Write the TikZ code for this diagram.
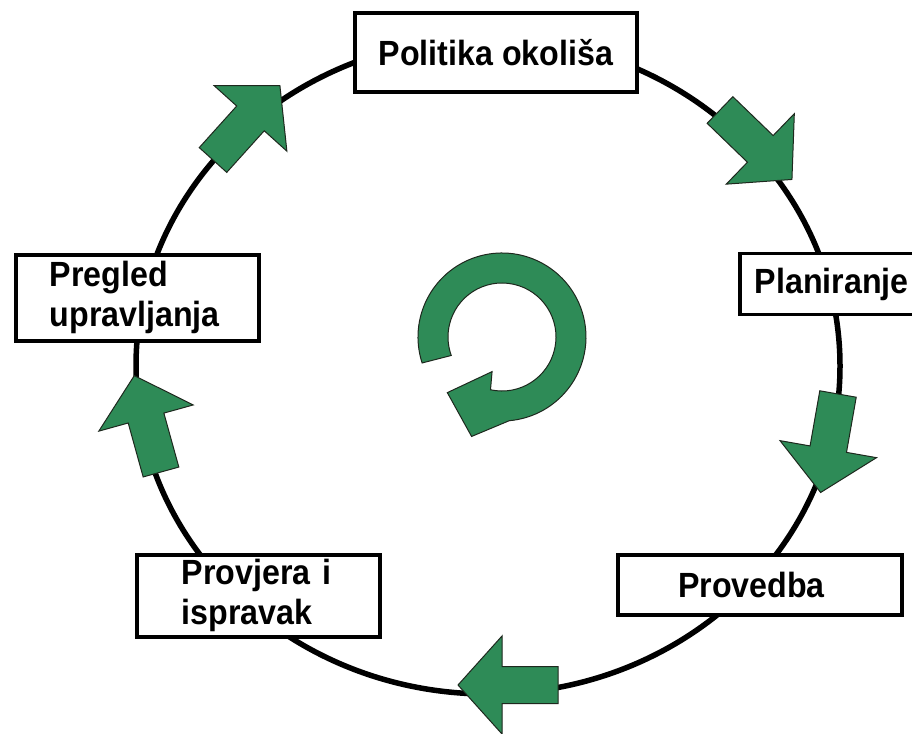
\documentclass[tikz,border=0pt]{standalone}
\usepackage{fontspec}
\setmainfont{Liberation Sans}
\newfontfamily\stagefont{Liberation Sans}[FakeStretch=0.92]
\definecolor{CycleGreen}{RGB}{46, 139, 87}
\definecolor{EdgeDark}{RGB}{30, 40, 30}
\usetikzlibrary{positioning}
\tikzset{
  stagebox/.style={draw=black, line width=3.5pt, fill=white, inner sep=0pt,
    font=\stagefont\fontsize{35}{40}\selectfont\bfseries},
  flowarrow/.pic={
    \filldraw[fill=CycleGreen, draw=EdgeDark, line width=1pt]
      (0,-18.5) -- (56,-18.5) -- (56,-49) -- (100,0) -- (56,49) -- (56,18.5) -- (0,18.5) -- cycle;
  }
}
\begin{document}
\begin{tikzpicture}[x=1pt, y=-1pt]
        \clip (0,0) rectangle (912,733);
        \fill[white] (0,0) rectangle (912,733);

        % Cycle line
        \draw[line width=5.5pt] (488,366) ellipse [x radius=352pt, y radius=328pt];

        % Stages
        \node[stagebox, minimum width=282pt, minimum height=79pt] (policy) at (496,52.5) {Politika okoliša};
        \node[stagebox, anchor=west, minimum height=61pt, text width=152pt, inner xsep=15pt, align=left] (plan) at (738,284) {Planiranje};
        \node[stagebox, minimum height=60pt, text width=164pt, inner xsep=60pt, align=left] (action) at (760,585) {Provedba};
        \node[stagebox, anchor=north west, minimum height=82pt, text width=153pt, inner xsep=45pt, align=left] (check) at (135,553) {Provjera i\\ispravak};
        \node[stagebox, anchor=north west, minimum height=86pt, text width=175pt, inner xsep=34pt, align=left] (review) at (14,253) {Pregled\\upravljanja};

        % Arrows on the cycle
        \pic[rotate=-44] at (720,110) {flowarrow};
        \pic[rotate=-100] at (838,394) {flowarrow};
        \pic[rotate=180] at (558,685) {flowarrow};
        \pic[rotate=105.5] at (161,472) {flowarrow};
        \pic[rotate=48] at (213,160) {flowarrow};

        % Circular arrow in the middle
        \begin{scope}[shift={(502,337)}, y=1pt]
          \filldraw[fill=CycleGreen, draw=EdgeDark, line width=1pt]
            (198:84) arc[start angle=198, end angle=-85, radius=84pt]
            -- (253:104) -- (225.5:78) -- (254:36) -- (-102.3:54)
            arc[start angle=-102.3, end angle=200, radius=54pt] -- cycle;
        \end{scope}
    \end{tikzpicture}
\end{document}
